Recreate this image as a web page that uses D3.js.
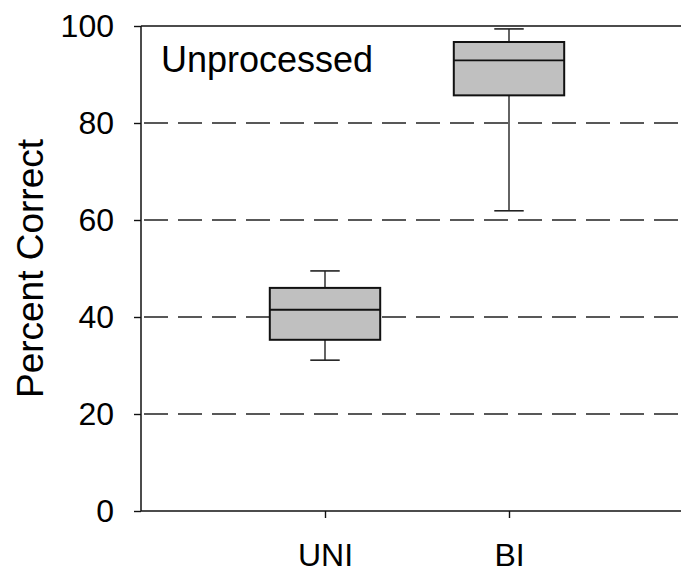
<!DOCTYPE html>
<html>
<head>
<meta charset="utf-8">
<script src="https://cdn.jsdelivr.net/npm/d3@7"></script>
<style>
  body { margin: 0; background: #fff; }
  text { font-family: Arial, "Liberation Sans", sans-serif; fill: #000; }
</style>
</head>
<body>
<div id="chart"></div>
<script>
// data
var groups = ['UNI', 'BI'];
var whiskerLow = [31.1, 61.9];
var q1 = [35.3, 85.7];
var median = [41.5, 92.9];
var q3 = [46.0, 96.7];
var whiskerHigh = [49.5, 99.4];
var yTicks = [0, 20, 40, 60, 80, 100];
var gridValues = [20, 40, 60, 80];
var panelLabel = 'Unprocessed';
var yTitle = 'Percent Correct';

var width = 681, height = 569;
var margin = { top: 26, right: -12, bottom: 58, left: 141 };
var innerW = width - margin.left - margin.right,
  innerH = height - margin.top - margin.bottom;

var svg = d3.select('#chart').append('svg')
  .attr('width', width)
  .attr('height', height);

var x = d3.scaleLinear().domain([0, groups.length + 1]).range([0, innerW]);
var y = d3.scaleLinear().domain([0, 100]).range([innerH, 0]);

var g = svg.append('g')
  .attr('transform', 'translate(' + margin.left + ',' + margin.top + ')');

// dashed grid
g.selectAll('.grid')
  .data(gridValues)
  .enter()
  .append('line')
  .attr('class', 'grid')
  .attr('x1', 0)
  .attr('x2', innerW)
  .attr('y1', function(d) { return y(d); })
  .attr('y2', function(d) { return y(d); })
  .attr('stroke', '#222')
  .attr('stroke-width', 1.4)
  .attr('stroke-dasharray', '24,10')
  .attr('stroke-dashoffset', -3);

// top frame line
g.append('line')
  .attr('x1', 0).attr('x2', innerW)
  .attr('y1', 0).attr('y2', 0)
  .attr('stroke', '#111')
  .attr('stroke-width', 1.5);

var yAxis = d3.axisLeft(y).tickValues(yTicks).tickSize(7).tickPadding(20);
var yG = g.append('g').call(yAxis);
yG.select('.domain').remove();
yG.selectAll('.tick line').attr('stroke', '#111').attr('stroke-width', 1.4);
yG.selectAll('.tick text').style('font-size', '32px');

g.append('line')
  .attr('x1', 0).attr('x2', 0)
  .attr('y1', 0).attr('y2', innerH)
  .attr('stroke', '#111')
  .attr('stroke-width', 1.5);

var xAxis = d3.axisBottom(x)
  .tickValues(groups.map(function(d, i) { return i + 1; }))
  .tickFormat(function(d) { return groups[d - 1]; })
  .tickSize(7)
  .tickPadding(25);
var xG = g.append('g')
  .attr('transform', 'translate(0,' + innerH + ')')
  .call(xAxis);
xG.select('.domain').remove();
xG.selectAll('.tick line').attr('stroke', '#111').attr('stroke-width', 1.4);
xG.selectAll('.tick text').style('font-size', '32px');

g.append('line')
  .attr('x1', 0).attr('x2', innerW)
  .attr('y1', innerH).attr('y2', innerH)
  .attr('stroke', '#111')
  .attr('stroke-width', 1.5);

// boxes
var boxW = x(0.6) - x(0);
var capW = x(0.16) - x(0);
var boxes = g.selectAll('.box')
  .data(groups)
  .enter()
  .append('g')
  .attr('class', 'box');

boxes.append('line')
  .attr('x1', function(d, i) { return x(i + 1); })
  .attr('x2', function(d, i) { return x(i + 1); })
  .attr('y1', function(d, i) { return y(whiskerHigh[i]); })
  .attr('y2', function(d, i) { return y(whiskerLow[i]); })
  .attr('stroke', '#222')
  .attr('stroke-width', 1.4);

[whiskerLow, whiskerHigh].forEach(function(arr) {
  boxes.append('line')
    .attr('x1', function(d, i) { return x(i + 1) - capW / 2; })
    .attr('x2', function(d, i) { return x(i + 1) + capW / 2; })
    .attr('y1', function(d, i) { return y(arr[i]); })
    .attr('y2', function(d, i) { return y(arr[i]); })
    .attr('stroke', '#222')
    .attr('stroke-width', 1.6);
});

boxes.append('rect')
  .attr('x', function(d, i) { return x(i + 1) - boxW / 2; })
  .attr('y', function(d, i) { return y(q3[i]); })
  .attr('width', boxW)
  .attr('height', function(d, i) { return y(q1[i]) - y(q3[i]); })
  .attr('fill', '#c0c0c0')
  .attr('stroke', '#111')
  .attr('stroke-width', 2);

boxes.append('line')
  .attr('x1', function(d, i) { return x(i + 1) - boxW / 2; })
  .attr('x2', function(d, i) { return x(i + 1) + boxW / 2; })
  .attr('y1', function(d, i) { return y(median[i]); })
  .attr('y2', function(d, i) { return y(median[i]); })
  .attr('stroke', '#111')
  .attr('stroke-width', 1.8);

// labels
svg.append('text')
  .attr('x', 161)
  .attr('y', 72)
  .style('font-size', '36px')
  .text(panelLabel);

svg.append('text')
  .attr('transform', 'translate(43,' + (margin.top + innerH / 2) + ') rotate(-90)')
  .attr('text-anchor', 'middle')
  .style('font-size', '37px')
  .text(yTitle);
</script>
</body>
</html>
